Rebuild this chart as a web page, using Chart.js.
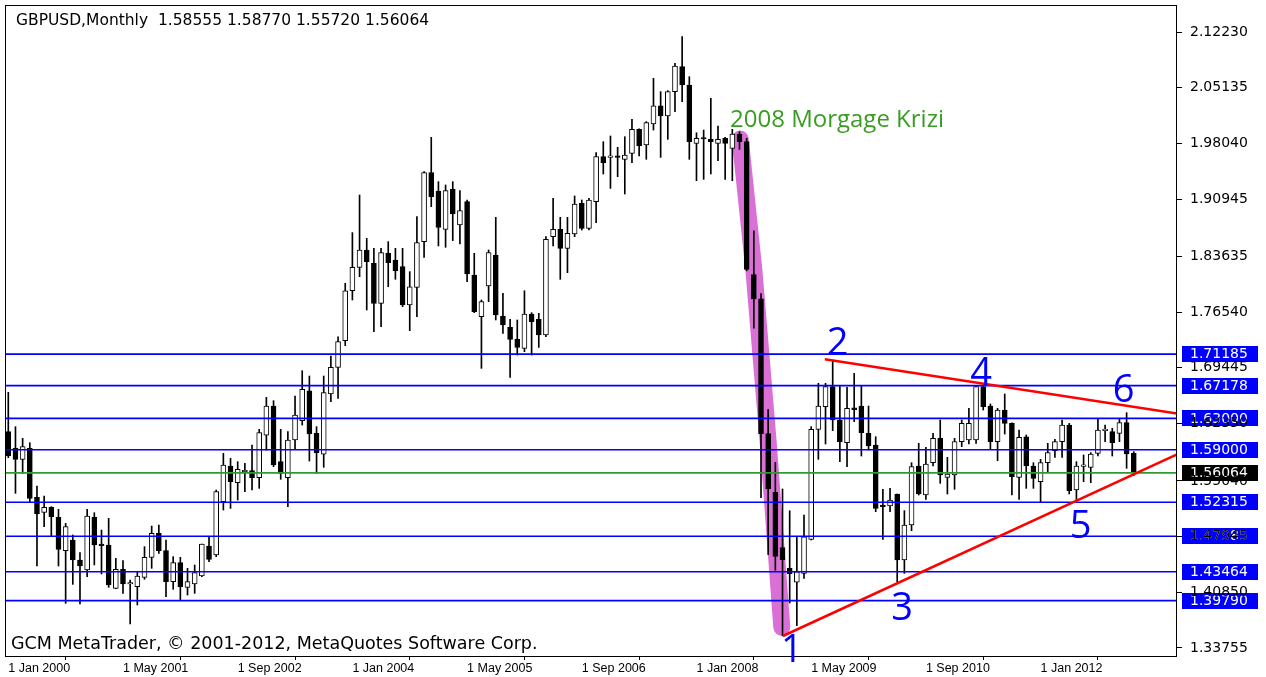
<!DOCTYPE html>
<html><head><meta charset="utf-8">
<script src="https://cdn.jsdelivr.net/npm/chart.js@4.4.0/dist/chart.umd.min.js"></script>
<style>html,body{margin:0;padding:0;background:#fff;overflow:hidden}canvas{display:block}</style>
</head><body>
<canvas id="c" width="1266" height="677"></canvas>
<script>
// Monthly GBPUSD candles, index 0 = Jan 2000 ... 157 = Feb 2013
const opens = [1.6131,1.5919,1.5779,1.5919,1.5295,1.5103,1.5167,1.5040,1.4615,1.4751,1.4496,1.4369,1.5040,1.4695,1.4687,1.4135,1.4377,1.4190,1.4156,1.4275,
1.4530,1.4836,1.4615,1.4220,1.4462,1.4148,1.4190,1.4292,1.4675,1.4560,1.5239,1.5694,1.5481,1.5620,1.5634,1.5545,1.6088,1.6458,1.5749,1.5545,
1.6025,1.6271,1.6653,1.6110,1.5846,1.6611,1.6951,1.7290,1.7927,1.8225,1.8446,1.8276,1.7766,1.8403,1.8318,1.8233,1.7745,1.7970,1.8552,1.9431,
1.9197,1.8709,1.9219,1.8764,1.9061,1.8127,1.7596,1.7987,1.8382,1.7605,1.7460,1.7307,1.7193,1.7630,1.7562,1.7363,1.8616,1.8709,1.8467,1.8650,
1.9040,1.8722,1.9061,1.9635,1.9625,1.9635,1.9601,1.9677,1.9983,1.9783,2.0051,2.0281,2.0153,2.0463,2.0781,2.0548,1.9805,1.9868,1.9856,1.9805,
1.9868,1.9741,1.9924,1.9826,1.8131,1.7823,1.6106,1.5357,1.4653,1.4389,1.4213,1.4326,1.4759,1.6161,1.6450,1.6705,1.6280,1.5991,1.6435,1.6458,
1.6110,1.5961,1.5197,1.5184,1.5337,1.4496,1.4942,1.5694,1.5324,1.5736,1.6046,1.5549,1.5579,1.6004,1.6025,1.6025,1.6705,1.6458,1.6004,1.6407,
1.6237,1.5549,1.6067,1.5694,1.5494,1.5736,1.5889,1.6004,1.6216,1.5388,1.5690,1.5677,1.5855,1.6144,1.6131,1.6110,1.6246,1.58555];
const highs = [1.6632,1.6195,1.6046,1.5991,1.5439,1.5312,1.5176,1.5142,1.4963,1.4815,1.4590,1.5142,1.5099,1.4878,1.5027,1.4517,1.4488,1.4241,1.4348,1.4666,
1.4929,1.4942,1.4751,1.4539,1.4530,1.4390,1.4432,1.4700,1.4794,1.5388,1.5855,1.5791,1.5749,1.5727,1.5961,1.6161,1.6568,1.6526,1.6161,1.6131,
1.6585,1.6908,1.6840,1.6195,1.6840,1.7095,1.7341,1.8021,1.8667,1.9146,1.8594,1.8467,1.8467,1.8552,1.8467,1.8467,1.8170,1.8870,1.9444,1.9881,
1.9316,1.9274,1.9316,1.9202,1.9083,1.8403,1.7809,1.8446,1.8862,1.7894,1.7562,1.7554,1.7927,1.7647,1.7639,1.8616,1.9104,1.8862,1.8862,1.9134,
1.9083,1.9104,1.9686,1.9826,1.9898,1.9754,1.9889,2.0110,1.9990,2.0081,2.0633,2.0463,2.0476,2.0824,2.1164,2.0654,1.9940,1.9974,2.0378,2.0025,
1.9881,1.9983,1.9953,1.9870,1.8691,1.7889,1.6414,1.5740,1.5401,1.5124,1.4785,1.5069,1.6195,1.6747,1.6747,1.7043,1.6713,1.6696,1.6874,1.6713,
1.6458,1.6067,1.5396,1.5409,1.5337,1.5125,1.5736,1.5983,1.5932,1.6110,1.6280,1.5804,1.6046,1.6280,1.6428,1.6713,1.6746,1.6484,1.6428,1.6611,
1.6245,1.6152,1.6089,1.5736,1.5779,1.5983,1.6033,1.6280,1.6237,1.5749,1.5834,1.5864,1.6301,1.6216,1.6174,1.6301,1.6373,1.58770];
const lows = [1.5800,1.5346,1.5600,1.5239,1.4420,1.4921,1.4802,1.4420,1.3944,1.4186,1.3936,1.4284,1.4433,1.4318,1.4148,1.4130,1.4071,1.3681,1.3923,1.4250,
1.4390,1.4581,1.4029,1.4123,1.3978,1.4050,1.4071,1.4284,1.4475,1.4539,1.5133,1.5154,1.5260,1.5367,1.5388,1.5409,1.5897,1.5685,1.5524,1.5175,
1.5906,1.6216,1.5757,1.5600,1.5677,1.6513,1.6556,1.7227,1.7809,1.8106,1.7681,1.7405,1.7469,1.7978,1.8072,1.7724,1.7418,1.7596,1.8352,1.8998,
1.8497,1.8480,1.8565,1.8522,1.8042,1.7647,1.6938,1.7787,1.7554,1.7384,1.6823,1.7108,1.7150,1.7108,1.7205,1.7342,1.8497,1.8072,1.8157,1.8616,
1.8700,1.8700,1.8794,1.9414,1.9231,1.9380,1.9159,1.9558,1.9643,1.9601,1.9974,1.9626,1.9856,2.0208,2.0335,1.9601,1.9329,1.9346,1.9414,1.9584,
1.9346,1.9329,1.9728,1.8180,1.7449,1.5291,1.4565,1.4366,1.3530,1.3948,1.3660,1.4262,1.4751,1.5779,1.5974,1.6144,1.5749,1.5685,1.6259,1.5821,
1.5898,1.5112,1.4759,1.5112,1.4220,1.4326,1.4870,1.5324,1.5269,1.5694,1.5473,1.5337,1.5397,1.5940,1.5974,1.5983,1.6407,1.5906,1.5762,1.6101,
1.5324,1.5269,1.5409,1.5409,1.5227,1.5622,1.5804,1.5804,1.5337,1.5261,1.5494,1.5481,1.5821,1.6004,1.5821,1.6004,1.5664,1.55720];
const closes = [1.5821,1.5779,1.5940,1.5282,1.5082,1.5167,1.5048,1.4632,1.4921,1.4496,1.4420,1.5057,1.4687,1.4680,1.4178,1.4377,1.4190,1.4195,1.4292,1.4530,
1.4836,1.4615,1.4220,1.4462,1.4156,1.4220,1.4335,1.4700,1.4505,1.5367,1.5706,1.5494,1.5651,1.5625,1.5545,1.6118,1.6458,1.5706,1.5600,1.6025,
1.6343,1.6670,1.6101,1.5863,1.6628,1.6951,1.7278,1.7927,1.8225,1.8446,1.8297,1.7766,1.8412,1.8284,1.8182,1.7745,1.7978,1.8539,1.9431,1.9125,
1.8734,1.9202,1.8904,1.8947,1.8140,1.7660,1.7788,1.8412,1.7617,1.7490,1.7307,1.7205,1.7630,1.7532,1.7363,1.8582,1.8709,1.8467,1.8658,1.9032,
1.8722,1.9083,1.9635,1.9558,1.9640,1.9625,1.9656,1.9983,1.9771,2.0068,2.0281,2.0153,2.0463,2.0790,2.0548,1.9826,1.9868,1.9860,1.9826,1.9856,
1.9805,1.9924,1.9826,1.8197,1.7823,1.6106,1.5401,1.4543,1.4499,1.4323,1.4345,1.4793,1.6161,1.6458,1.6705,1.6280,1.6004,1.6428,1.6410,1.6118,
1.5949,1.5154,1.5176,1.5261,1.4496,1.4942,1.5685,1.5337,1.5719,1.6046,1.5579,1.5592,1.6004,1.6237,1.6237,1.6705,1.6450,1.6004,1.6407,1.6237,
1.5558,1.6059,1.5694,1.5537,1.5736,1.5864,1.6004,1.6216,1.5379,1.5694,1.5698,1.5847,1.6152,1.6150,1.5991,1.6246,1.5847,1.56064];

const xTickIndex = [0,16,32,48,64,80,96,112,128,144];
const xTickLabels = ['1 Jan 2000','1 May 2001','1 Sep 2002','1 Jan 2004','1 May 2005','1 Sep 2006','1 Jan 2008','1 May 2009','1 Sep 2010','1 Jan 2012'];
const yTickValues = [2.12230,2.05135,1.98040,1.90945,1.83635,1.76540,1.69445,1.62350,1.55040,1.47945,1.40850,1.33755];
const yTickLabels = ['2.12230','2.05135','1.98040','1.90945','1.83635','1.76540','1.69445','1.62350','1.55040','1.47945','1.40850','1.33755'];
const levelValues = [1.71185,1.67178,1.63000,1.59000,1.52315,1.47985,1.43464,1.39790];
const levelLabels = ['1.71185','1.67178','1.63000','1.59000','1.52315','1.47985','1.43464','1.39790'];
const bidValue = 1.56064;
const bidLabel = '1.56064';
const upperTrend = [{x:113.9,y:1.7053},{x:163.03,y:1.6363}];
const lowerTrend = [{x:108.05,y:1.3528},{x:163.03,y:1.5842}];
const crashBand = [{x:102.1,y:1.9860},{x:104.0,y:1.8200},{x:106.0,y:1.6000},{x:107.9,y:1.3640}];
const waveLabels = ['1','2','3','4','5','6'];
const waveX = [109.3,115.7,124.7,135.7,149.6,155.6];
const waveY = [1.3330,1.7250,1.3870,1.6870,1.4910,1.6650];
const noteText = '2008 Morgage Krizi';
const noteX = 115.6, noteY = 2.0105;
const titleText = 'GBPUSD,Monthly  1.58555 1.58770 1.55720 1.56064';
const copyText = 'GCM MetaTrader, \u00A9 2001-2012, MetaQuotes Software Corp.';

const X_MIN = -0.46, X_MAX = 163.03, Y_MIN = 1.32732, Y_MAX = 2.15670;

const idx = opens.map((_, i) => i);
const bodyData = idx.map(i => ({x: i, y: [opens[i], closes[i]]}));
const wickData = idx.map(i => ({x: i, y: [lows[i], highs[i]]}));
const bodyColors = idx.map(i => closes[i] >= opens[i] ? '#ffffff' : '#000000');

const lineDs = (data, color, width, order) => ({
  type: 'line', data, borderColor: color, borderWidth: width, pointRadius: 0,
  fill: false, tension: 0, order, clip: 0
});

const datasets = [
  {type: 'bar', data: bodyData, backgroundColor: bodyColors, borderColor: '#000', borderWidth: 1,
   borderSkipped: false, barThickness: 5, minBarLength: 1.5, grouped: false, order: 2},
  {type: 'bar', data: wickData, backgroundColor: '#000', borderWidth: 0,
   barThickness: 1, grouped: false, order: 3},
  lineDs(crashBand, '#DA70D6', 17, 5),
  ...levelValues.map(v => lineDs([{x: X_MIN, y: v}, {x: X_MAX, y: v}], '#0000ff', 1.6, 1)),
  lineDs([{x: X_MIN, y: bidValue}, {x: X_MAX, y: bidValue}], '#2f9a2f', 1.6, 1),
  lineDs(upperTrend, '#ff0000', 2.5, 0),
  lineDs(lowerTrend, '#ff0000', 2.5, 0)
];
datasets[2].borderCapStyle = 'round';
datasets[2].borderJoinStyle = 'round';

const AXIS_FONT = '"DejaVu Sans", sans-serif';

const bgAndBoxes = {
  id: 'bgAndBoxes',
  beforeDraw(chart) {
    const ctx = chart.ctx, y = chart.scales.y, ca = chart.chartArea;
    ctx.save();
    ctx.fillStyle = '#fff';
    ctx.fillRect(0, 0, chart.width, chart.height);
    ctx.font = '14px ' + AXIS_FONT;
    ctx.textBaseline = 'middle';
    const drawBox = (v, txt, bg) => {
      const py = y.getPixelForValue(v);
      ctx.fillStyle = bg;
      ctx.fillRect(ca.right + 5, Math.round(py) - 8, 76, 16);
      ctx.fillStyle = '#fff';
      ctx.fillText(txt, ca.right + 13, py + 0.5);
    };
    levelValues.forEach((v, i) => drawBox(v, levelLabels[i], '#0000ff'));
    drawBox(bidValue, bidLabel, '#000000');
    ctx.restore();
  }
};

const annotations = {
  id: 'annotations',
  afterDraw(chart) {
    const ctx = chart.ctx, xs = chart.scales.x, ys = chart.scales.y, ca = chart.chartArea;
    ctx.save();
    ctx.strokeStyle = '#000';
    ctx.lineWidth = 1;
    ctx.strokeRect(ca.left + 0.5, ca.top + 0.5, ca.right - ca.left - 1, ca.bottom - ca.top);
    ctx.fillStyle = '#000';
    ctx.textBaseline = 'alphabetic';
    ctx.textAlign = 'left';
    ctx.font = '15.5px ' + AXIS_FONT;
    ctx.fillText(titleText, 16, 25);
    ctx.font = '17.5px ' + AXIS_FONT;
    ctx.fillText(copyText, 11, 649);
    ctx.fillStyle = '#3a9d23';
    ctx.font = '24px "Open Sans", sans-serif';
    ctx.textAlign = 'center';
    ctx.textBaseline = 'middle';
    ctx.fillText(noteText, xs.getPixelForValue(noteX), ys.getPixelForValue(noteY));
    ctx.fillStyle = '#0000ff';
    ctx.font = '38px "Open Sans", sans-serif';
    waveLabels.forEach((t, i) => {
      ctx.fillText(t, xs.getPixelForValue(waveX[i]), ys.getPixelForValue(waveY[i]));
    });
    ctx.restore();
  }
};

new Chart(document.getElementById('c'), {
  type: 'bar',
  data: {datasets},
  options: {
    responsive: false, animation: false, devicePixelRatio: 1,
    layout: {padding: {left: 5, top: 5, right: 0, bottom: 0}},
    plugins: {legend: {display: false}, tooltip: {enabled: false}},
    scales: {
      x: {
        type: 'linear', min: X_MIN, max: X_MAX, offset: false,
        grid: {drawOnChartArea: false, drawTicks: true, tickLength: 4, color: '#000'},
        border: {display: false},
        afterBuildTicks: s => { s.ticks = xTickIndex.map(v => ({value: v})); },
        afterFit: s => { s.height = 21; s.paddingLeft = 0; s.paddingRight = 0; },
        ticks: {
          autoSkip: false, maxRotation: 0, minRotation: 0, align: 'start', padding: 1,
          color: '#000', font: {family: '"Liberation Sans", sans-serif', size: 12.5},
          callback: v => { const k = xTickIndex.indexOf(v); return k >= 0 ? xTickLabels[k] : ''; }
        }
      },
      y: {
        type: 'linear', position: 'right', min: Y_MIN, max: Y_MAX,
        grid: {drawOnChartArea: false, drawTicks: true, tickLength: 5, color: '#000'},
        border: {display: false},
        afterBuildTicks: s => { s.ticks = yTickValues.map(v => ({value: v})); },
        afterFit: s => { s.width = 89; s.paddingTop = 0; s.paddingBottom = 0; },
        ticks: {
          padding: 8, color: '#000', font: {family: AXIS_FONT, size: 14},
          callback: v => { const k = yTickValues.indexOf(v); return k >= 0 ? yTickLabels[k] : ''; }
        }
      }
    }
  },
  plugins: [bgAndBoxes, annotations]
});
</script>
</body></html>
